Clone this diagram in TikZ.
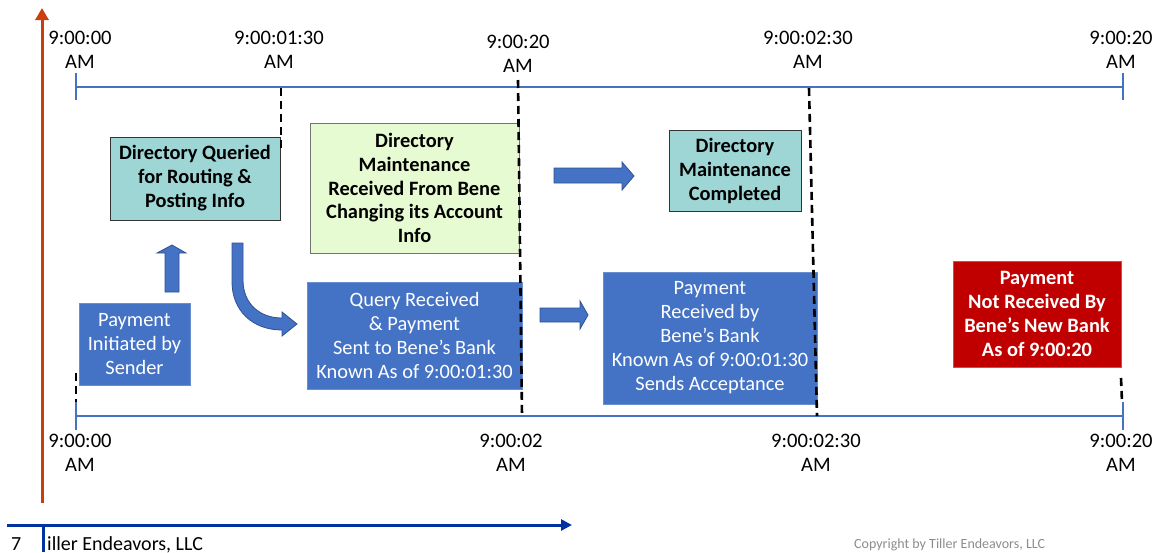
\documentclass[tikz,border=0pt]{standalone}
\usepackage{fontspec}
\setmainfont{Carlito}
\usetikzlibrary{arrows.meta}
\definecolor{tblue}{HTML}{4472C4}
\definecolor{tblueD}{HTML}{2F528F}
\definecolor{teal}{HTML}{9ED6D6}
\definecolor{lgreen}{HTML}{E6FBD2}
\definecolor{dred}{HTML}{C00000}
\definecolor{axred}{HTML}{C9400E}
\definecolor{axblue}{HTML}{0033A0}
\definecolor{cgray}{HTML}{8C8C8C}
\tikzset{
  lbl/.style={inner sep=0pt, align=center, font=\fontsize{20.6}{23.5}\selectfont},
  boxbase/.style={inner sep=0pt, align=center, anchor=center},
  tealbox/.style={boxbase, fill=teal, draw=black!80, line width=0.8pt, font=\fontsize{20.4}{24}\selectfont\bfseries},
  greenbox/.style={boxbase, fill=lgreen, draw=black!55, line width=0.8pt, font=\fontsize{20.4}{23.8}\selectfont\bfseries},
  bluebox/.style={boxbase, fill=tblue, draw=tblue!80!white, line width=0.6pt, text=white, font=\fontsize{20.4}{24}\selectfont},
  redbox/.style={boxbase, fill=dred, draw=dred!70!white, line width=0.6pt, text=white, font=\fontsize{20.4}{24}\selectfont\bfseries},
  tline/.style={draw=tblue, line width=2.4pt},
  dline/.style={draw=black, line width=2.6pt, dash pattern=on 8pt off 5pt},
  blockarrow/.style={fill=tblue, draw=tblueD, line width=0.8pt, line join=miter},
}
\begin{document}
\begin{tikzpicture}[x=1pt,y=-1pt]
\useasboundingbox (0,0) rectangle (1156,552);

% time axis (red) and footer axis (blue)
\coordinate (ra0) at (42,503);
\coordinate (ra1) at (42,8);
\draw[axred, line width=3pt, -{Triangle[length=12pt,width=13pt]}] (ra0) -- (ra1);
\coordinate (ba0) at (7,525);
\coordinate (ba1) at (572,525);
\draw[axblue, line width=3pt, -{Triangle[length=11pt,width=11pt]}] (ba0) -- (ba1);
\coordinate (bt0) at (43,525);
\coordinate (bt1) at (43,552);
\draw[axblue, line width=3pt] (bt0) -- (bt1);
\node[anchor=base west, inner sep=0pt, font=\fontsize{20}{23}\selectfont] (pg) at (11,550) {7};
\node[anchor=base west, inner sep=0pt, font=\fontsize{20}{23}\selectfont] (ft) at (47,550) {iller Endeavors, LLC};
\node[anchor=base west, inner sep=0pt, text=cgray, font=\fontsize{14}{16}\selectfont] (cp) at (854,548) {Copyright by Tiller Endeavors, LLC};

% top timeline
\coordinate (tl0) at (76,87);
\coordinate (tl1) at (1123,87);
\draw[tline] (tl0) -- (tl1);
\draw[tline] (76,73) -- (76,100);
\draw[tline] (1123,73) -- (1123,100);
% bottom timeline
\coordinate (bl0) at (76,416);
\coordinate (bl1) at (1123,416);
\draw[tline] (bl0) -- (bl1);
\draw[tline] (76,402) -- (76,430);
\draw[tline] (1123,402) -- (1123,430);

% top labels
\node[lbl] (t1) at (80,50) {9:00:00\\AM};
\node[lbl] (t2) at (279,50) {9:00:01:30\\AM};
\node[lbl] (t3) at (518,54) {9:00:20\\AM};
\node[lbl] (t4) at (808,50) {9:00:02:30\\AM};
\node[lbl] (t5) at (1121,50) {9:00:20\\AM};
% bottom labels
\node[lbl] (b1) at (80,453) {9:00:00\\AM};
\node[lbl] (b2) at (511,453) {9:00:02\\AM};
\node[lbl] (b3) at (816,453) {9:00:02:30\\AM};
\node[lbl] (b4) at (1121,453) {9:00:20\\AM};

% boxes
\node[tealbox, minimum width=170pt, minimum height=83pt] (q) at (195,178.5)
  {Directory Queried\\for Routing \&\\Posting Info};
\node[greenbox, minimum width=209pt, minimum height=130pt] (g) at (414.5,188)
  {Directory\\Maintenance\\Received From Bene\\Changing its Account\\Info};
\node[tealbox, minimum width=132pt, minimum height=81pt] (c) at (735,170.5)
  {Directory\\Maintenance\\Completed};
\node[bluebox, minimum width=111pt, minimum height=82pt] (p) at (134.5,344)
  {Payment\\Initiated by\\Sender};
\node[bluebox, minimum width=215pt, minimum height=107pt] (qr) at (414.5,335.5)
  {Query Received\\\& Payment\\Sent to Bene’s Bank\\Known As of 9:00:01:30};
\node[bluebox, minimum width=214pt, minimum height=132pt] (pr) at (710,338)
  {Payment\\Received by\\Bene’s Bank\\Known As of 9:00:01:30\\Sends Acceptance};
\node[redbox, minimum width=168pt, minimum height=106pt] (rb) at (1037,314)
  {Payment\\Not Received By\\Bene’s New Bank\\As of 9:00:20};

% dashed markers
\coordinate (d1a) at (281,88);  \coordinate (d1b) at (281,150);
\coordinate (d2a) at (518,80);  \coordinate (d2b) at (522,416);
\coordinate (d3a) at (809,88);  \coordinate (d3b) at (817,416);
\coordinate (d4a) at (76,373);  \coordinate (d4b) at (76,402);
\coordinate (d5a) at (1121,378); \coordinate (d5b) at (1122,402);
\draw[dline] (d1a) -- (d1b);
\draw[dline] (d2a) -- (d2b);
\draw[dline] (d3a) -- (d3b);
\draw[dline] (d4a) -- (d4b);
\draw[dline] (d5a) -- (d5b);

% block arrows
% up arrow (Payment -> Directory Queried)
\draw[blockarrow] (165,292) -- (165,253) -- (157,253) -- (172,245) -- (186,253) -- (179,253) -- (179,292) -- cycle;
% curved arrow (Directory Queried -> Query Received)
\draw[blockarrow] (232,243) -- (232,282) .. controls (232,310) and (252,330) .. (282,330)
  -- (282,336) -- (297,324) -- (282,312) -- (282,318)
  .. controls (260,318) and (243,304) .. (243,280) -- (243,243) -- cycle;
% right arrow (green -> completed)
\draw[blockarrow] (554,168) -- (622,168) -- (622,162) -- (634,176) -- (622,190) -- (622,183) -- (554,183) -- cycle;
% right arrow (query -> payment received)
\draw[blockarrow] (540,308) -- (580,308) -- (580,301) -- (588,315) -- (580,329) -- (580,322) -- (540,322) -- cycle;
\end{tikzpicture}
\end{document}
